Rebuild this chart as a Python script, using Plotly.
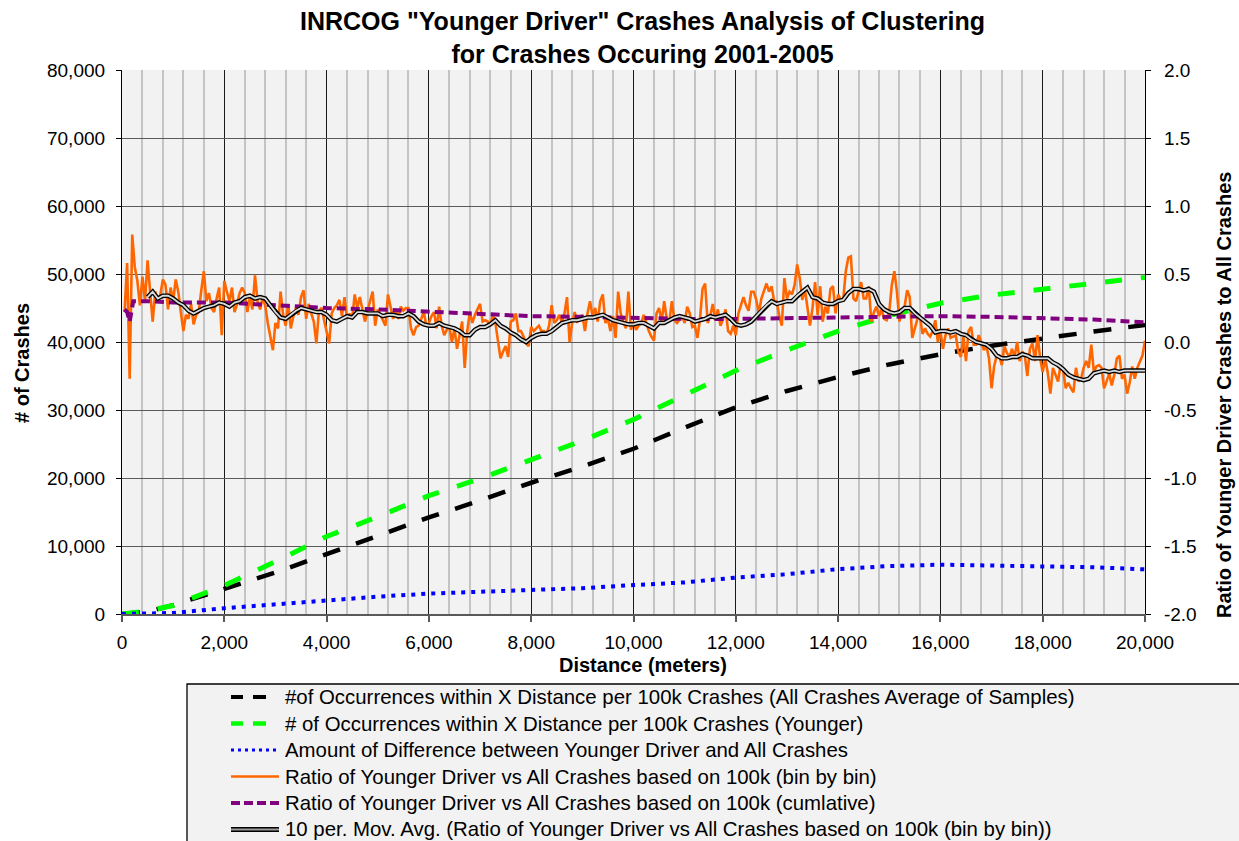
import plotly.graph_objects as go

FONT = "Liberation Sans, Arial, Helvetica, sans-serif"

# ---------------- data ----------------
TITLE = 'INRCOG "Younger Driver" Crashes Analysis of Clustering<br>for Crashes Occuring 2001-2005'

# bin-by-bin ratio (right axis), 50 m bins from 50 m to 20,000 m
DIST_BIN = list(range(50, 20001, 50))
RATIO_BIN = [
    0.22, 0.58, -0.27, 0.79, 0.55, 0.45, 0.27, 0.48, 0.30, 0.60, 0.37, 0.15, 0.37, 0.30, 0.35, 0.46, 0.42, 0.24, 0.40, 0.30,
    0.46, 0.37, 0.22, 0.08, 0.20, 0.17, 0.28, 0.13, 0.20, 0.22, 0.38, 0.52, 0.30, 0.36, 0.25, 0.22, 0.32, 0.40, 0.05, 0.45,
    0.37, 0.30, 0.40, 0.22, 0.28, 0.36, 0.40, 0.36, 0.22, 0.33, 0.24, 0.49, 0.30, 0.24, 0.33, 0.27, 0.14, 0.05, -0.06, 0.14,
    0.10, 0.37, 0.20, 0.12, 0.28, 0.10, 0.19, 0.25, 0.20, 0.33, 0.38, 0.17, 0.28, 0.21, 0.15, -0.01, 0.23, 0.25, 0.16, 0.08,
    -0.01, 0.21, 0.25, 0.27, 0.31, 0.19, 0.33, 0.17, 0.21, 0.17, 0.35, 0.25, 0.33, 0.24, 0.15, 0.23, 0.30, 0.37, 0.12, 0.24,
    0.20, 0.16, 0.12, 0.35, 0.27, 0.17, 0.24, 0.17, 0.26, 0.23, 0.25, 0.25, 0.10, 0.05, 0.11, 0.12, 0.17, 0.22, 0.12, 0.14,
    0.19, 0.22, 0.10, 0.26, 0.12, 0.05, 0.09, 0.11, 0.00, 0.10, -0.05, 0.05, 0.15, -0.19, 0.08, 0.22, 0.14, 0.20, 0.24, 0.28,
    0.15, 0.16, 0.15, 0.12, 0.20, 0.14, 0.01, -0.12, -0.07, -0.03, -0.11, 0.15, 0.16, 0.21, 0.08, 0.08, 0.04, -0.01, -0.03, 0.11,
    0.08, 0.10, 0.12, 0.08, 0.08, 0.06, 0.12, 0.27, 0.14, 0.16, 0.20, 0.14, 0.21, 0.33, 0.00, 0.14, 0.22, 0.15, 0.16, 0.20,
    0.08, 0.21, 0.30, 0.19, 0.25, 0.15, 0.30, 0.35, 0.14, 0.17, 0.08, 0.19, 0.03, 0.37, 0.21, 0.15, 0.10, 0.37, 0.09, 0.15,
    0.09, 0.12, 0.14, 0.20, 0.14, 0.08, 0.04, 0.01, 0.21, 0.25, 0.15, 0.30, 0.17, 0.15, 0.30, 0.16, 0.14, 0.17, 0.19, 0.14,
    0.26, 0.21, 0.11, 0.12, 0.03, 0.17, 0.39, 0.43, 0.14, 0.19, 0.28, 0.16, 0.24, 0.12, 0.17, 0.24, 0.08, 0.06, 0.12, 0.05,
    0.21, 0.27, 0.33, 0.27, 0.23, 0.37, 0.37, 0.31, 0.21, 0.32, 0.38, 0.43, 0.37, 0.41, 0.30, 0.30, 0.19, 0.12, 0.47, 0.32,
    0.37, 0.35, 0.42, 0.57, 0.47, 0.31, 0.39, 0.27, 0.12, 0.25, 0.44, 0.20, 0.41, 0.15, 0.26, 0.21, 0.39, 0.41, 0.21, 0.35,
    0.31, 0.31, 0.52, 0.62, 0.63, 0.32, 0.30, 0.37, 0.44, 0.32, 0.32, 0.41, 0.15, 0.22, 0.26, 0.19, 0.24, 0.17, 0.16, 0.22,
    0.42, 0.52, 0.37, 0.15, 0.24, 0.26, 0.38, 0.33, 0.03, 0.10, 0.17, 0.19, 0.06, 0.10, 0.06, 0.04, 0.08, 0.16, 0.00, 0.08,
    -0.05, 0.05, 0.10, 0.03, 0.04, 0.05, -0.07, -0.11, 0.04, -0.14, 0.08, 0.11, -0.02, -0.02, 0.05, -0.01, -0.06, -0.03, -0.12, -0.34,
    -0.18, -0.10, -0.10, -0.17, -0.03, -0.08, -0.11, -0.05, -0.11, 0.00, -0.14, -0.07, -0.10, -0.25, -0.05, -0.01, -0.14, 0.05, -0.12, -0.22,
    -0.12, -0.23, -0.38, -0.19, -0.24, -0.29, -0.17, -0.21, -0.34, -0.30, -0.34, -0.37, -0.19, -0.29, -0.27, -0.19, -0.14, -0.19, -0.02, -0.22,
    -0.18, -0.17, -0.19, -0.34, -0.29, -0.23, -0.32, -0.24, -0.12, -0.10, -0.27, -0.24, -0.38, -0.30, -0.18, -0.27, -0.19, -0.14, -0.10, 0.01,
]

# 10 period moving average (right axis), every 100 m from 500 m
DIST_MA = list(range(500, 20001, 100))
RATIO_MA = [
    0.33, 0.37, 0.32, 0.34, 0.34, 0.32, 0.29, 0.27, 0.23, 0.21,
    0.23, 0.25, 0.26, 0.27, 0.29, 0.28, 0.26, 0.29, 0.30, 0.33,
    0.34, 0.32, 0.33, 0.32, 0.27, 0.22, 0.18, 0.17, 0.20, 0.23,
    0.25, 0.24, 0.23, 0.22, 0.22, 0.20, 0.16, 0.15, 0.17, 0.19,
    0.18, 0.22, 0.22, 0.21, 0.21, 0.21, 0.19, 0.20, 0.20, 0.19,
    0.19, 0.21, 0.19, 0.15, 0.13, 0.12, 0.12, 0.14, 0.12, 0.11,
    0.10, 0.08, 0.05, 0.05, 0.09, 0.11, 0.11, 0.13, 0.16, 0.12,
    0.10, 0.07, 0.05, 0.02, 0.00, 0.03, 0.05, 0.06, 0.06, 0.08,
    0.11, 0.14, 0.15, 0.16, 0.16, 0.17, 0.18, 0.18, 0.19, 0.20,
    0.18, 0.16, 0.15, 0.14, 0.13, 0.13, 0.14, 0.14, 0.12, 0.10,
    0.14, 0.14, 0.16, 0.18, 0.19, 0.18, 0.17, 0.15, 0.16, 0.17,
    0.19, 0.18, 0.19, 0.20, 0.17, 0.13, 0.12, 0.13, 0.15, 0.19,
    0.23, 0.27, 0.30, 0.28, 0.29, 0.30, 0.30, 0.34, 0.37, 0.40,
    0.33, 0.32, 0.29, 0.28, 0.28, 0.30, 0.31, 0.36, 0.39, 0.39,
    0.38, 0.39, 0.37, 0.28, 0.24, 0.22, 0.21, 0.22, 0.25, 0.25,
    0.21, 0.18, 0.15, 0.12, 0.07, 0.08, 0.08, 0.07, 0.08, 0.06,
    0.05, 0.02, 0.00, -0.01, -0.02, -0.05, -0.10, -0.12, -0.12, -0.11,
    -0.11, -0.09, -0.10, -0.12, -0.12, -0.12, -0.12, -0.15, -0.17, -0.20,
    -0.24, -0.26, -0.27, -0.28, -0.27, -0.23, -0.22, -0.21, -0.22, -0.21,
    -0.22, -0.21, -0.21, -0.21, -0.21, -0.21,
]

# cumulative occurrences (left axis)
DIST_CUM = [0, 500, 1000, 2000, 3000, 4000, 5000, 6000, 7000, 8000, 9000, 10000,
            11000, 12000, 13000, 14000, 15000, 16000, 17000, 18000, 19000, 20000]
ALL_CUM = [0, 350, 1300, 3700, 6100, 8800, 11500, 14200, 16700, 19300, 21700, 24300,
           27400, 30400, 32800, 34850, 36700, 38200, 39450, 40550, 41550, 42500]
YOUNG_CUM = [0, 450, 1250, 4200, 7700, 11400, 14300, 17400, 19900, 22700, 25500, 28600,
             32100, 35800, 38800, 41600, 43900, 45700, 46900, 47800, 48600, 49500]
DIFF_CUM = [0, 50, 150, 850, 1450, 2050, 2550, 3000, 3300, 3500, 3800, 4250,
            4650, 5350, 5850, 6600, 7050, 7250, 7150, 7100, 6870, 6570]

# cumulative ratio (right axis)
DIST_RCUM = [50, 100, 150, 220, 500, 1000, 2000, 3000, 4000, 5000, 6000, 7000, 8000,
             9000, 10000, 11000, 12000, 13000, 14000, 15000, 16000, 17000, 18000, 19000, 20000]
RATIO_CUM = [0.24, 0.22, 0.15, 0.30, 0.30, 0.29, 0.29, 0.27, 0.25, 0.24, 0.225, 0.205, 0.19,
             0.185, 0.175, 0.17, 0.17, 0.175, 0.185, 0.19, 0.19, 0.185, 0.175, 0.165, 0.145]

Y2_TICKVALS = [-2.0, -1.5, -1.0, -0.5, 0.0, 0.5, 1.0, 1.5, 2.0]
Y2_TICKTEXT = ["-2.0", "-1.5", "-1.0", "-0.5", "0.0", "0.5", "1.0", "1.5", "2.0"]

NAMES = [
    "#of Occurrences within X Distance per 100k Crashes (All Crashes Average of Samples)",
    "# of Occurrences within X Distance per 100k Crashes (Younger)",
    "Amount of Difference between Younger Driver and All Crashes",
    "Ratio of Younger Driver vs All Crashes based on 100k (bin by bin)",
    "Ratio of Younger Driver vs All Crashes based on 100k (cumlative)",
    "10 per. Mov. Avg. (Ratio of Younger Driver vs All Crashes based on 100k (bin by bin))",
]

C_BLACK = "#000000"
C_GREEN = "#00FF00"
C_BLUE = "#0000FF"
C_ORANGE = "#FF6600"
C_PURPLE = "#800080"
C_MA_IN = "#D9D9D9"

# ---------------- figure ----------------
fig = go.Figure()
fig.add_trace(go.Scatter(x=DIST_CUM, y=ALL_CUM, name=NAMES[0], mode="lines",
                         line=dict(color=C_BLACK, width=4.5, dash="18px,17px")))
fig.add_trace(go.Scatter(x=DIST_CUM, y=YOUNG_CUM, name=NAMES[1], mode="lines",
                         line=dict(color=C_GREEN, width=5, dash="17px,19px")))
fig.add_trace(go.Scatter(x=DIST_CUM, y=DIFF_CUM, name=NAMES[2], mode="lines",
                         line=dict(color=C_BLUE, width=4, dash="4px,6px")))
fig.add_trace(go.Scatter(x=DIST_BIN, y=RATIO_BIN, name=NAMES[3], mode="lines", yaxis="y2",
                         line=dict(color=C_ORANGE, width=2.6)))
fig.add_trace(go.Scatter(x=DIST_RCUM, y=RATIO_CUM, name=NAMES[4], mode="lines", yaxis="y2",
                         line=dict(color=C_PURPLE, width=4, dash="9px,5px")))
fig.add_trace(go.Scatter(x=DIST_MA, y=RATIO_MA, name=NAMES[5], mode="lines", yaxis="y2",
                         line=dict(color=C_BLACK, width=4.5)))
fig.add_trace(go.Scatter(x=DIST_MA, y=RATIO_MA, name=NAMES[5], mode="lines", yaxis="y2",
                         line=dict(color=C_MA_IN, width=1.8), showlegend=False))

L, R, T, B = 122, 1145, 70, 614
W, H = 1239, 841


def px2x(p):
    return (p - L) / (R - L)


def px2y(p):
    return (B - p) / (B - T)


fig.update_layout(
    width=W, height=H,
    margin=dict(l=L, r=W - R, t=T, b=H - B),
    plot_bgcolor="#F2F2F2", paper_bgcolor="white",
    showlegend=False,
    font=dict(family=FONT, size=19, color="black"),
    xaxis=dict(range=[0, 20000], dtick=2000, tick0=0, tickformat=",",
               showgrid=True, gridcolor="#1A1A1A", gridwidth=1,
               minor=dict(dtick=400, tick0=0, showgrid=True, gridcolor="#C4C4C4", gridwidth=1.5),
               showline=True, linecolor="#595959", linewidth=2,
               ticks="outside", ticklen=6, tickcolor="#595959", tickwidth=1.5,
               zeroline=False, ticklabelstandoff=4,
               tickfont=dict(family=FONT, size=19)),
    yaxis=dict(range=[0, 80000], dtick=10000, tick0=0, tickformat=",",
               showgrid=True, gridcolor="#5A5A5A", gridwidth=1.3,
               showline=True, linecolor="black", linewidth=1.2,
               ticks="outside", ticklen=5, tickcolor="black",
               zeroline=False, ticklabelstandoff=7,
               tickfont=dict(family=FONT, size=19)),
    yaxis2=dict(range=[-2, 2], overlaying="y", side="right",
                tickvals=Y2_TICKVALS, ticktext=Y2_TICKTEXT,
                showgrid=False, showline=True, linecolor="black", linewidth=1.2,
                ticks="outside", ticklen=5, tickcolor="black",
                zeroline=False, ticklabelstandoff=9,
                tickfont=dict(family=FONT, size=19)),
)

annotations = [
    dict(text="<b>" + TITLE + "</b>", x=px2x(642), y=px2y(37), xref="paper", yref="paper",
         xanchor="center", yanchor="middle", showarrow=False,
         font=dict(family=FONT, size=25, color="black")),
    dict(text="<b>Distance (meters)</b>", x=px2x(643), y=px2y(665), xref="paper", yref="paper",
         xanchor="center", yanchor="middle", showarrow=False, font=dict(family=FONT, size=20)),
    dict(text="<b># of Crashes</b>", x=px2x(22), y=px2y(363), xref="paper", yref="paper",
         xanchor="center", yanchor="middle", textangle=-90, showarrow=False,
         font=dict(family=FONT, size=20)),
    dict(text="<b>Ratio of Younger Driver Crashes to All Crashes</b>", x=px2x(1224), y=px2y(395),
         xref="paper", yref="paper", xanchor="center", yanchor="middle", textangle=-90,
         showarrow=False, font=dict(family=FONT, size=20)),
]

# ---------------- manual legend (box, symbols, texts) ----------------
shapes = [dict(type="rect", xref="paper", yref="paper",
               x0=px2x(187), x1=px2x(1262), y0=px2y(684), y1=px2y(870),
               fillcolor="#F2F2F2", line=dict(color="black", width=1.3), layer="above")]
rows = [697, 723.5, 750, 776.5, 803, 829.5]


def seg(x0, x1, yy, color, width, dash="solid"):
    return dict(type="line", xref="paper", yref="paper", x0=px2x(x0), x1=px2x(x1),
                y0=px2y(yy), y1=px2y(yy), line=dict(color=color, width=width, dash=dash))


for a, b in [(231, 243), (253, 266)]:
    shapes.append(seg(a, b, rows[0], C_BLACK, 4))
    shapes.append(seg(a, b, rows[1], C_GREEN, 4.5))
shapes.append(seg(231, 279, rows[2], C_BLUE, 3, "3px,4px"))
shapes.append(seg(231, 279, rows[3], C_ORANGE, 2.5))
for a, b in [(231, 240), (244, 253), (257, 266), (270, 279)]:
    shapes.append(seg(a, b, rows[4], C_PURPLE, 4))
shapes.append(seg(231, 279, rows[5], C_BLACK, 5))
shapes.append(seg(231, 279, rows[5], "#9A9A9A", 1.8))

for name, yy in zip(NAMES, rows):
    annotations.append(dict(text=name, x=px2x(283), y=px2y(yy), xref="paper", yref="paper",
                            xanchor="left", yanchor="middle", showarrow=False,
                            font=dict(family=FONT, size=20.4, color="black")))

fig.update_layout(shapes=shapes, annotations=annotations)

# remove the browser's default 8px body margin so the figure sits at the page origin
fig.write_html("out.html", config={"displayModeBar": False},
               post_script="document.body.style.margin='0';document.body.style.padding='0';")
